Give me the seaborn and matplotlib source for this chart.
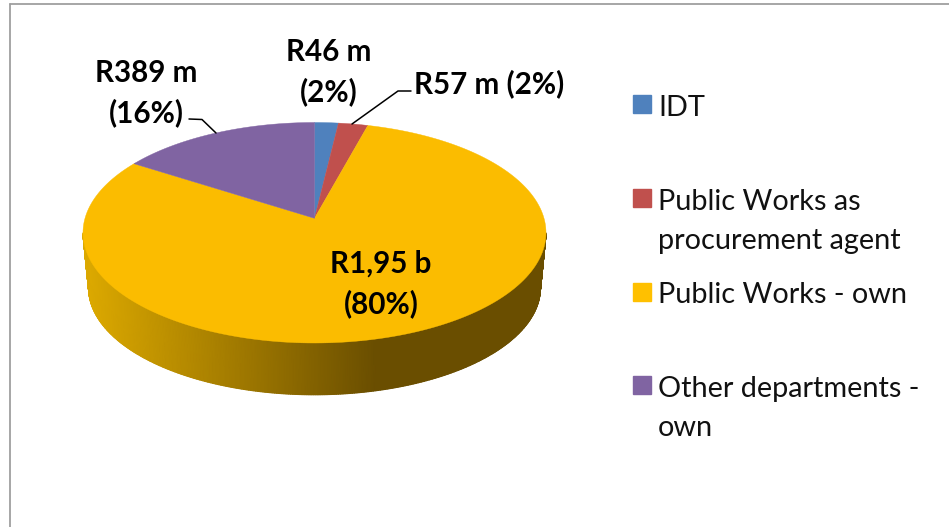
import numpy as np
import matplotlib
matplotlib.use("Agg")
import matplotlib.pyplot as plt
import seaborn as sns
from matplotlib.colors import LinearSegmentedColormap, Normalize
from matplotlib.lines import Line2D
from matplotlib.patches import Rectangle, Patch
from matplotlib.legend_handler import HandlerPatch

categories = ["IDT\n ", "Public Works as\nprocurement agent", "Public Works - own\n ", "Other departments -\nown"]
values = [46, 57, 1950, 389]
legend_colors = ["#4F81BD", "#C0504D", "#FFC000", "#8064A2"]
face_colors = ["#4F81BD", "#C0504D", "#FBBC00", "#8064A2"]
data_labels = ["R46 m\n(2%)", "R57 m (2%)", "R1,95 b\n(80%)", "R389 m\n(16%)"]
label_px = [(329, 72), (489, 84), (381, 284), (146, 93)]

W, H = 949, 527
sns.set_theme(style="white")
plt.rcParams["font.family"] = ["Lato", "DejaVu Sans"]
fig = plt.figure(figsize=(W / 100, H / 100), dpi=100, facecolor="white")

def px(x, y):
    return x / W, 1 - y / H

left, right, top, bottom = 83, 546, 122.5, 343
ax = fig.add_axes([left / W, 1 - bottom / H, (right - left) / W, (bottom - top) / H])

# side wall with gradient
t = np.linspace(np.pi, 2 * np.pi, 400)
wall_x = np.vstack([np.cos(t), 0.976 * np.cos(t)])
wall_y = np.vstack([np.sin(t), -0.50 + 0.97 * np.sin(t)])
cmap = LinearSegmentedColormap.from_list("wall", ["#DCA900", "#6A4E00"])
ax.pcolormesh(wall_x, wall_y, wall_x, shading="gouraud", cmap=cmap,
              norm=Normalize(-0.976, 0.27), clip_on=False, zorder=1)

# pie, seen in perspective: the centre of the disc sits above the ellipse centre
wedges, _ = ax.pie(values, startangle=90, counterclock=False, colors=face_colors, radius=1)
apex_shift = 0.131
for w, c in zip(wedges, face_colors):
    a = np.radians(np.linspace(w.theta1, w.theta2, 200))
    u = np.r_[0, np.cos(a), 0]
    v = np.r_[0, np.sin(a), 0]
    den = 1 + apex_shift * v
    X = u * np.sqrt(1 - apex_shift ** 2) / den
    Y = (v + apex_shift) / den
    w.remove()
    ax.fill(X, Y, color=c, lw=0.3, clip_on=False, zorder=2)
ax.set_aspect("auto")
ax.set_xlim(-1, 1)
ax.set_ylim(-1, 1)
ax.axis("off")

# chart frame
frame = dict(color="#9F9F9F", lw=1.3, transform=fig.transFigure)
fig.add_artist(Line2D(*zip(px(9.5, 3.5), px(W, 3.5)), **frame))
fig.add_artist(Line2D(*zip(px(9.5, 3.5), px(9.5, H)), **frame))

# leader lines
for pts in ([(189, 119), (202, 119.5), (216, 133)], [(411, 91), (398, 91), (352, 124)]):
    fig.add_artist(Line2D(*zip(*[px(*p) for p in pts]), color="black", lw=1.1,
                          transform=fig.transFigure))

# data labels
for txt, (x, y) in zip(data_labels, label_px):
    fx, fy = px(x, y)
    fig.text(fx, fy, txt, ha="center", va="center", fontsize=21.3, fontweight="bold",
             color="black", linespacing=1.5, zorder=5)

# legend
LEGEND_PT = 20.8
def square(legend, orig_handle, xdescent, ydescent, width, height, fontsize):
    s = 18 * 0.72
    return Rectangle((0, 17.8), s, s)

handles = [Patch(color=c) for c in legend_colors]
leg = fig.legend(handles, categories, loc="upper left", bbox_to_anchor=px(632.5, 95),
                 frameon=False, fontsize=LEGEND_PT, borderpad=0, borderaxespad=0,
                 handlelength=0.62, handletextpad=0.26, labelspacing=0.99,
                 labelcolor="#111111",
                 handler_map={Patch: HandlerPatch(patch_func=square)})
for txt in leg.get_texts():
    txt.set_linespacing(1.62)

fig.savefig("out.png", dpi=100, facecolor="white")
